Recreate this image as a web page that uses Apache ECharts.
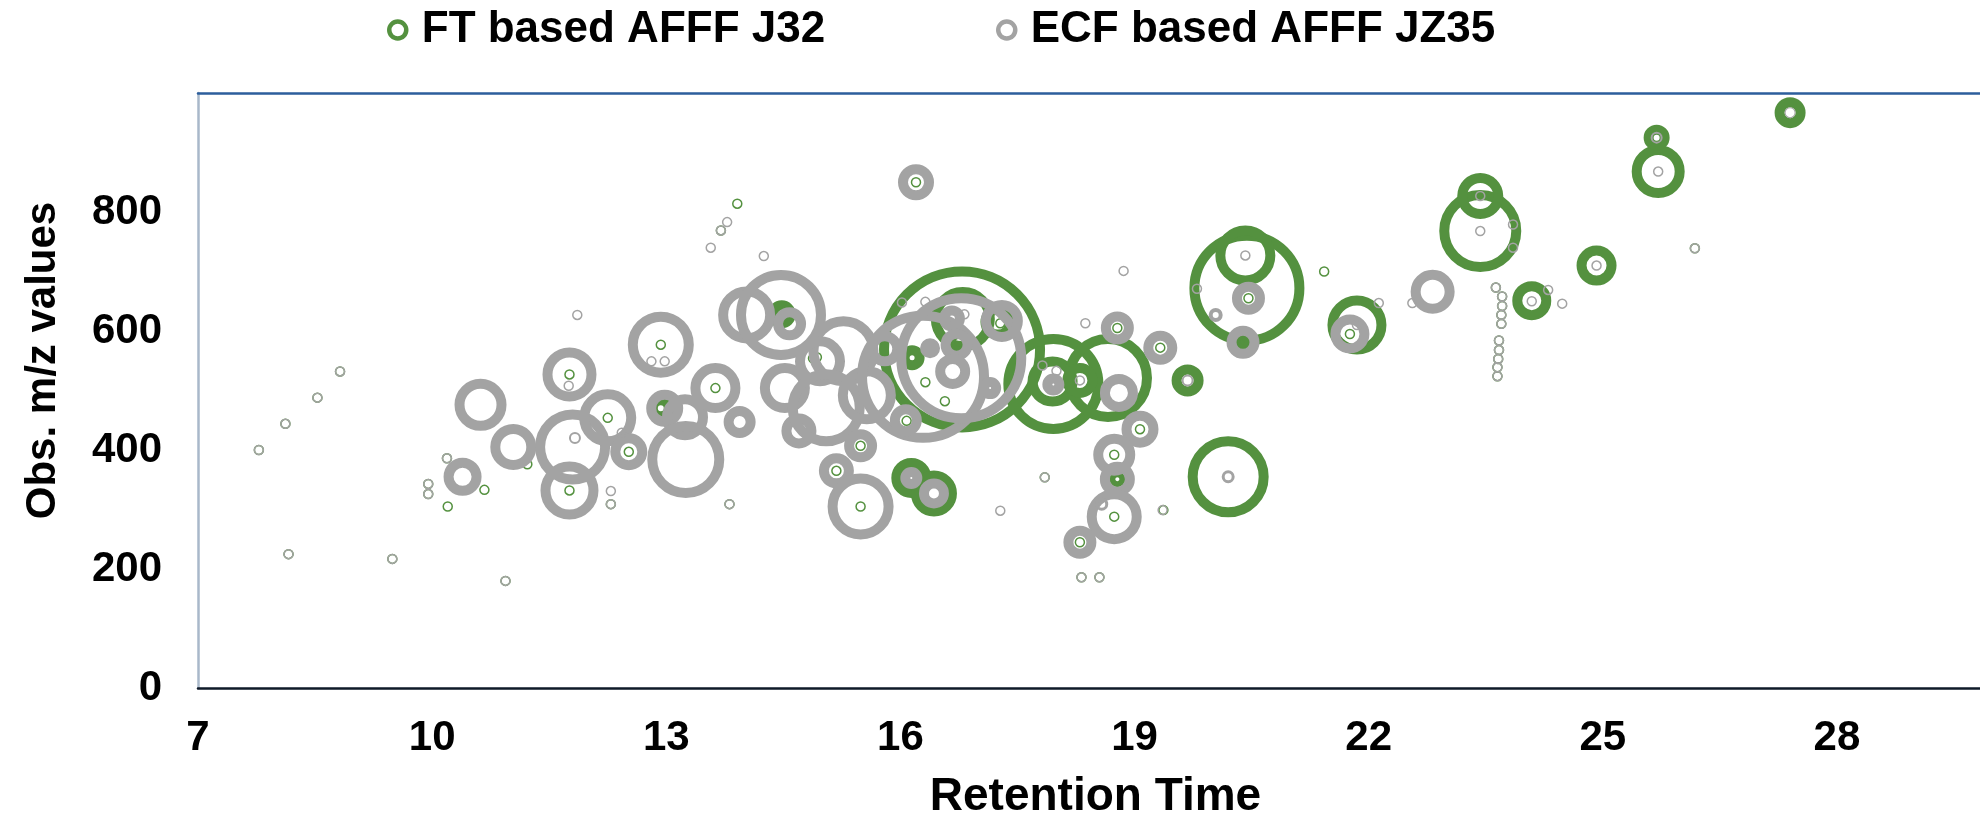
<!DOCTYPE html>
<html><head><meta charset="utf-8">
<script src="https://cdn.jsdelivr.net/npm/echarts@6/dist/echarts.min.js"></script>
<style>html,body{margin:0;padding:0;background:#fff}#chart{width:1980px;height:816px}</style>
</head><body><div id="chart"></div>
<script>
// ---------- DATA ----------
const seriesNames = ['FT based AFFF J32', 'ECF based AFFF JZ35'];
const xRange = [7, 30];   // Retention Time axis
const xStep = 3;
const yRange = [0, 1000]; // Obs. m/z axis
const yStep = 200;

// FT based AFFF J32 : bubbles (retention time, m/z, relative abundance)
const ftX = [16.79,16.8,16.75,17.96,17.95,18.66,18.3,19.68,20.44,20.42,20.2,21.85,23.43,23.43,24.09,24.92,25.71,25.69,27.4,16.14,16.43,14.48,12.93,17.25,16.15,20.38,18.78];
const ftY = [569,620,580,511,515,521,517,517,672,727,355,610,768,827,651,710,868,925,967,353,327,628,470,615,555,581,351];
const ftV = [243.4,29.16,3.24,81,16,60.84,6.25,4.84,110.25,25,50.41,24.01,51.84,12.96,8.41,9,18.49,2.56,4.41,9,12.96,3.24,2.56,6.25,2.25,0.36,0.36];

// ECF based AFFF JZ35 : bubbles
const ecfX = [10.62,10.39,11.04,11.76,11.8,11.83,11.76,12.25,12.52,12.93,12.98,13.24,13.25,13.63,13.94,14.03,14.47,14.58,14.52,14.7,15.27,14.97,15.05,15.18,15.49,15.49,15.57,15.8,16.29,16.78,17.3,16.07,16.38,17.15,16.66,16.72,16.67,16.2,16.14,16.43,17.96,18.8,18.78,19.33,19.68,19.07,18.74,18.78,18.74,18.3,18.58,20.04,20.46,20.39,20.2,21.76,22.82,25.69,27.4];
const ecfY = [476,355,405,527,405,420,332,454,397,577,470,455,384,504,447,627,627,612,504,432,566,549,471,365,407,305,492,570,523,554,617,450,571,504,621,577,532,850,353,327,510,496,605,572,517,435,392,351,288,245,309,627,655,581,355,595,666,925,967];
const ecfV = [17.64,7.84,12.96,19.36,42.25,0.04,23.04,22.09,7.29,31.36,7.29,12.96,44.89,16,4.84,22.09,64,5.29,16,6.25,36,16,44.89,6.25,5.29,31.36,23.04,6.25,148.84,144,10.24,4.84,1,1.44,2.56,4.84,6.25,6.76,1.44,4,1.44,7.84,5.29,5.76,0.04,7.29,10.24,6.25,20.25,5.29,0.09,0.16,5.29,5.29,0.09,8.41,11.56,0.04,0.01];

// trace-level detections (minimum bubble)
const ftTraceX = [7.78,8.12,8.53,8.82,8.16,9.49,10.94,10.19,9.95,9.95,10.2,10.67,11.22,12.29,13.81,11.76,12.93,12.25,12.52,13.63,11.76,13.91,13.7,14.88,15.18,15.49,15.49,16.08,16.32,16.57,17.28,16.2,17.85,19.37,18.32,18.55,18.78,19.33,19.07,18.74,18.74,18.3,20.46,21.43,21.76,23.63,23.71,23.71,23.7,23.7,23.67,23.67,23.66,23.65,23.65,26.18,14.93];
const ftTraceY = [400,444,488,532,225,217,180,386,343,326,305,333,376,309,309,527,577,454,397,504,332,814,769,554,365,407,305,449,514,482,613,850,354,299,186,186,605,572,435,392,288,245,655,700,595,673,658,642,627,612,584,568,553,539,524,739,556];
const ecfTraceX = [7.78,8.12,8.53,8.82,8.16,9.49,10.94,10.19,9.95,9.95,11.86,11.75,12.81,12.98,12.43,12.29,12.29,13.81,13.78,13.7,13.57,14.25,16.02,16.32,16.82,17.85,17.28,18.86,18.37,19.36,18.32,18.55,17.82,18.0,18.3,19.8,20.42,21.85,22.13,22.56,23.43,23.43,23.85,23.85,24.09,24.48,24.3,24.92,25.71,23.63,23.71,23.71,23.7,23.7,23.67,23.67,23.66,23.65,23.65,26.18];
const ecfTraceY = [400,444,488,532,225,217,180,386,343,326,627,508,549,549,429,331,309,309,783,769,740,726,648,649,628,354,298,701,613,299,186,186,542,533,517,671,727,610,647,647,768,827,779,740,650,646,669,710,868,673,658,642,627,612,584,568,553,539,524,739];

// ---------- STYLE ----------
const GREEN = '#54913f';
const GRAY = '#a3a3a3';
const FONT = '"Liberation Sans", Arial, sans-serif';
const SIZE_SCALE = 10;     // symbol diameter = SIZE_SCALE * sqrt(abundance)
const RING = 10;           // ring thickness of bubbles
const TRACE_SIZE = 9;

const zip3 = (xs, ys, vs) => xs.map((x, i) => [x, ys[i], vs[i]]);
const zip2 = (xs, ys) => xs.map((x, i) => [x, ys[i]]);

function bubbleSeries(name, data, color) {
  return {
    type: 'scatter', name, data, silent: true,
    symbol: 'circle',
    symbolSize: v => SIZE_SCALE * Math.sqrt(v[2]),
    itemStyle: { color: 'rgba(0,0,0,0)', borderColor: color, borderWidth: RING, opacity: 1 },
    emphasis: { disabled: true }
  };
}
function traceSeries(name, data, color) {
  return {
    type: 'scatter', name, data, silent: true,
    symbol: 'circle', symbolSize: TRACE_SIZE,
    itemStyle: { color: 'rgba(0,0,0,0)', borderColor: color, borderWidth: 1.5, opacity: 1 },
    emphasis: { disabled: true }
  };
}
function legendFor(name, color, left) {
  return {
    left, top: 3, selectedMode: false,
    itemWidth: 30, itemHeight: 17,
    data: [{ name, icon: 'circle', itemStyle: { color: 'rgba(0,0,0,0)', borderColor: color, borderWidth: 4.5 } }],
    textStyle: { fontSize: 44, fontWeight: 'bold', color: '#000', fontFamily: FONT, padding: [0,0,0,4] }
  };
}

const chart = echarts.init(document.getElementById('chart'), null, { renderer: 'canvas' });
chart.setOption({
  animation: false,
  backgroundColor: '#fff',
  legend: [legendFor(seriesNames[0], GREEN, 382), legendFor(seriesNames[1], GRAY, 991)],
  grid: { left: 198, right: -13, top: 93, bottom: 128, containLabel: false, outerBoundsMode: 'none' },
  xAxis: [{
    type: 'value', min: xRange[0], max: xRange[1], interval: xStep,
    name: 'Retention Time', nameLocation: 'middle', nameGap: 86,
    nameTextStyle: { fontSize: 46, fontWeight: 'bold', color: '#000', fontFamily: FONT },
    axisLine: { show: true, onZero: false, lineStyle: { color: '#0f1a28', width: 2.5 } },
    axisTick: { show: false }, splitLine: { show: false },
    axisLabel: { fontSize: 42, fontWeight: 'bold', color: '#000', fontFamily: FONT, margin: 29, showMaxLabel: false }
  }, {
    type: 'value', position: 'top', min: xRange[0], max: xRange[1], interval: xStep,
    axisLine: { show: true, onZero: false, lineStyle: { color: '#2c5e9c', width: 2.5 } },
    axisTick: { show: false }, splitLine: { show: false }, axisLabel: { show: false }
  }],
  yAxis: {
    type: 'value', min: yRange[0], max: yRange[1], interval: yStep,
    name: 'Obs. m/z values', nameLocation: 'middle', nameGap: 134,
    nameTextStyle: { fontSize: 42, fontWeight: 'bold', color: '#000', fontFamily: FONT, padding: [0, 0, 0, 60] },
    axisLine: { show: true, lineStyle: { color: '#a9b8ca', width: 2.5 } },
    axisTick: { show: false }, splitLine: { show: false },
    axisLabel: { fontSize: 42, fontWeight: 'bold', color: '#000', fontFamily: FONT, margin: 36, showMaxLabel: false }
  },
  series: [
    bubbleSeries(seriesNames[0], zip3(ftX, ftY, ftV), GREEN),
    traceSeries(seriesNames[0], zip2(ftTraceX, ftTraceY), GREEN),
    bubbleSeries(seriesNames[1], zip3(ecfX, ecfY, ecfV), GRAY),
    traceSeries(seriesNames[1], zip2(ecfTraceX, ecfTraceY), GRAY)
  ]
});
</script></body></html>
